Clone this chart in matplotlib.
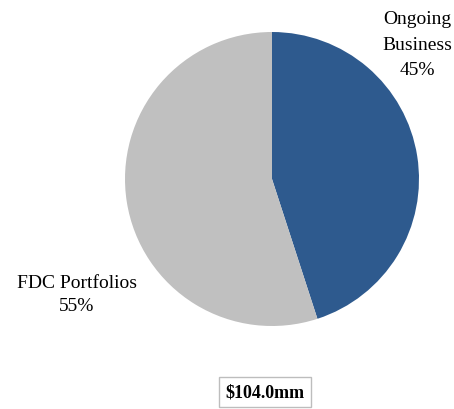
import matplotlib
matplotlib.use('Agg')
import matplotlib.pyplot as plt

# Revenue split
segments = ['Ongoing\nBusiness', 'FDC Portfolios']
shares = [45, 55]
colours = ['#2E5A8E', '#C0C0C0']
total_label = '$104.0mm'

plt.rcParams['font.family'] = ['Liberation Serif', 'DejaVu Serif']

W, H = 454, 410
fig = plt.figure(figsize=(W / 100, H / 100), dpi=100)

# pie centre (272, 180) px, radius 147 px
cx, cy, r = 272, 180, 147
ax = fig.add_axes([(cx - r) / W, (H - cy - r) / H, 2 * r / W, 2 * r / H])
ax.pie(shares, colors=colours, startangle=90, counterclock=False,
       wedgeprops={'linewidth': 0})
ax.set_xlim(-1, 1)
ax.set_ylim(-1, 1)
ax.set_aspect('equal')

fig.text(417 / W, 1 - 45 / H, '%s\n%d%%' % (segments[0], shares[0]),
         ha='center', va='center', fontsize=14, linespacing=1.68)
fig.text(77 / W, 1 - 295 / H, '%s\n%d%%' % (segments[1], shares[1]),
         ha='center', va='center', fontsize=14, linespacing=1.45)

fig.text(265 / W, 1 - 393 / H, total_label, ha='center', va='center',
         fontsize=13, fontweight='bold',
         bbox=dict(boxstyle='square,pad=0.35', facecolor='white',
                   edgecolor='#BDBDBD', linewidth=1))

fig.savefig('out.png', dpi=100)
